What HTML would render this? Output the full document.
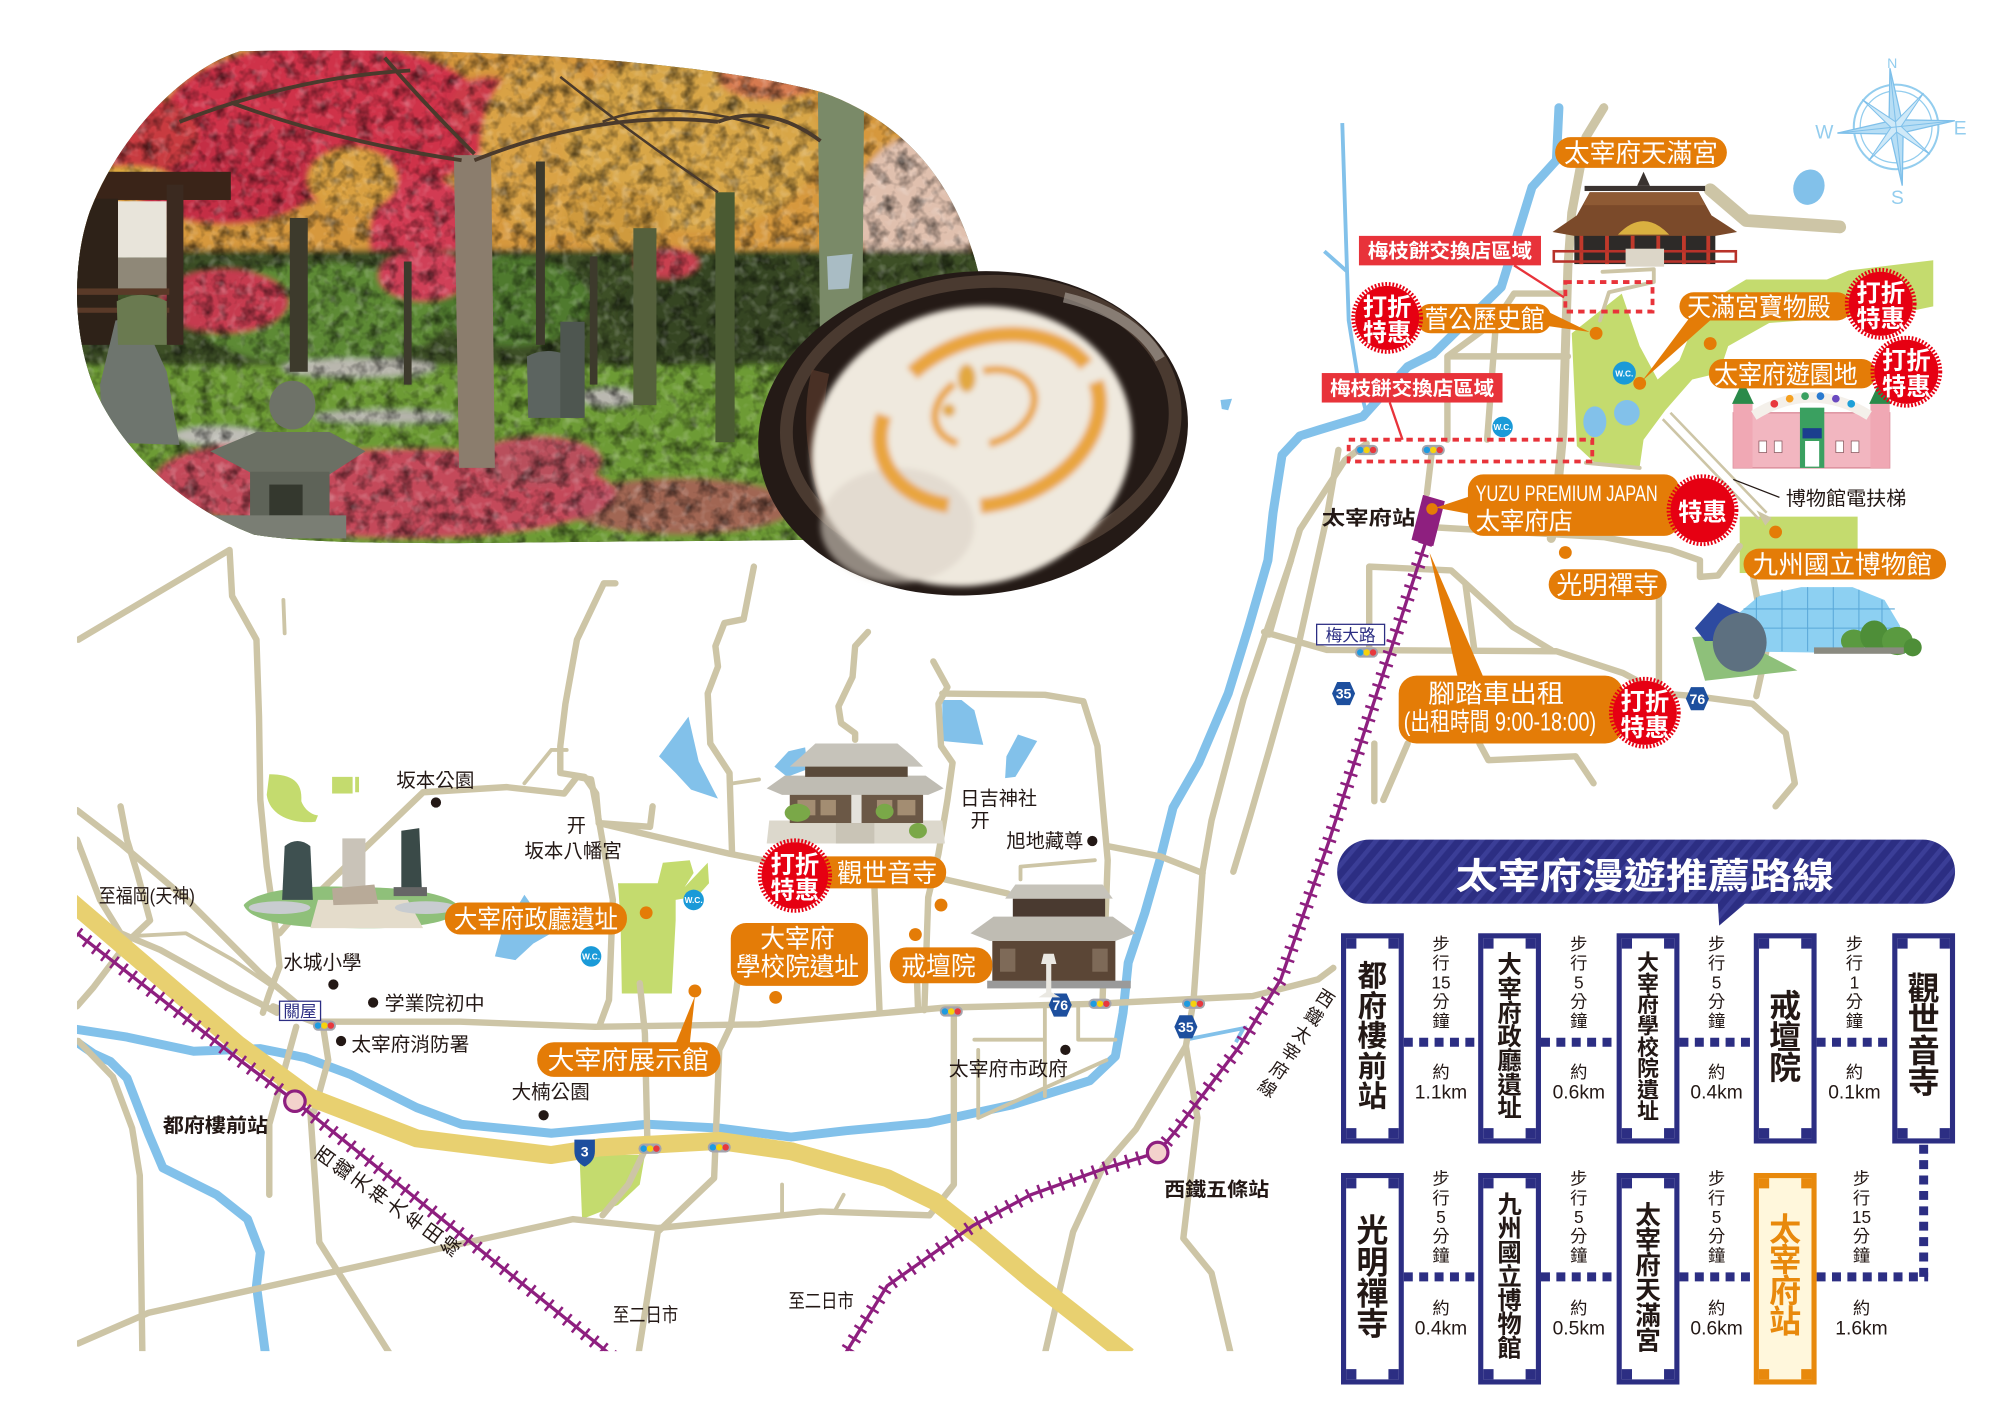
<!DOCTYPE html>
<html><head><meta charset="utf-8">
<style>
html,body{margin:0;padding:0;background:#fff;}
svg{display:block;}
text{font-family:"Liberation Sans","Noto Sans CJK TC",sans-serif;}
.rd{fill:none;stroke:#cdc5a6;stroke-width:5;stroke-linecap:round;stroke-linejoin:round}
.rt{fill:none;stroke:#cdc5a6;stroke-width:3;stroke-linecap:round;stroke-linejoin:round}
.rv{fill:none;stroke:#82c1ea;stroke-width:7;stroke-linecap:round;stroke-linejoin:round}
.lt{fill:#fff;font-size:20px;text-anchor:middle}
.bt{fill:#fff;font-size:19px;font-weight:700;text-anchor:middle}
.bk{fill:#231815;font-size:15px}
.bx{fill:#231815;font-weight:700;text-anchor:middle}
.wk{fill:#231815;font-size:13.5px;text-anchor:middle}
.km{fill:#231815;font-size:15px;text-anchor:middle}
.ob{fill:#e47c07}
.dt{fill:none;stroke:#2c2e83;stroke-width:7;stroke-dasharray:7 5}
</style></head>
<body>
<svg width="2000" height="1414" viewBox="0 0 1560 1103" xmlns="http://www.w3.org/2000/svg">
<defs>
<clipPath id="blob"><path d="M187,40 C140,55 92,108 70,165 C56,205 56,262 75,306 C95,350 140,395 198,417 C262,428 420,422 560,422 L720,420 L772,300 L763,212 C750,160 720,100 641,72 C560,50 400,36 187,40 Z"/></clipPath>
<clipPath id="mapclip"><rect x="60" y="0" width="1500" height="1054"/></clipPath>
<pattern id="stripe" width="9" height="9" patternUnits="userSpaceOnUse" patternTransform="rotate(40)"><rect width="9" height="9" fill="#2c2e83"/><rect width="3.5" height="9" fill="#3b3e97"/></pattern>
<filter id="soft" x="-5%" y="-5%" width="110%" height="110%"><feGaussianBlur stdDeviation="2.2"/></filter>
<filter id="grain" x="0" y="0" width="100%" height="100%"><feTurbulence type="fractalNoise" baseFrequency="0.09" numOctaves="3" seed="5"/><feColorMatrix type="matrix" values="0 0 0 0 0  0 0 0 0 0  0 0 0 0 0  0 0 0 2.2 -0.95"/></filter>
<filter id="grain2" x="0" y="0" width="100%" height="100%"><feTurbulence type="fractalNoise" baseFrequency="0.13" numOctaves="2" seed="11"/><feColorMatrix type="matrix" values="0 0 0 0 1  0 0 0 0 1  0 0 0 0 1  0 0 0 2.4 -1.2"/></filter>
</defs>

<!-- ================= MAP ================= -->
<g clip-path="url(#mapclip)">
<g fill="#c4db6e">
<path d="M1226,260 L1265,229 L1279,270 L1293,296 L1310,281 L1327,239 L1362,218 L1425,218 L1442,211 L1508,203 L1508,239 L1484,244 L1380,252 L1348,270 L1341,291 L1320,296 L1299,320 L1282,343 L1279,364 L1244,361 L1230,348 Z"/>
<rect x="1357" y="403" width="92" height="44"/>
<path d="M210,604 C228,604 236,610 235,625 C238,633 245,636 248,636 L246,641 C228,643 210,636 208,620 Z"/>
<rect x="259" y="606" width="16" height="13"/><rect x="277" y="606" width="3" height="12"/>
<path d="M482,689 L513,689 L517,673 L538,671 L541,681 L534,692 L552,673 L553,689 L544,699 L527,702 L527,718 L524,775 L485,775 L484,718 Z"/>
<path d="M452,901 L503,901 L499,924 L482,940 L454,951 Z"/>
</g>
<g fill="#82c1ea">
<path d="M537,559 L514,590 L527,603 L539,616 L560,623 L545,594 Z"/>
<path d="M735,546 L750,546 L760,554 L767,581 L735,578 Z"/>
<path d="M794,573 L809,578 L800,593 L792,606 L784,607 L785,590 Z"/>
<path d="M604,598 L615,586 L628,583 L630,600 L614,606 Z"/>
<path d="M409,698 L430,728 L416,736 L402,749 L386,746 L391,728 Z"/>
<ellipse cx="1411" cy="146" rx="12" ry="14" transform="rotate(20 1411 146)"/>
<ellipse cx="1244" cy="329" rx="9" ry="12"/>
<ellipse cx="1269" cy="322" rx="10" ry="10"/>
<path d="M952,312 L961,311 L958,320 L953,319 Z"/>
</g>
<path class="rv" d="M1216,84 L1214,125 L1195,146 L1171,224 L1118,276 L1098,286 L1063,325 L1030,335 L1014,340 L1000,355 L993,400 L989,437 L974,489 L958,541 L935,595 L915,630 L905,670 L893,712 L880,751 L876,790 L870,824 L850,843 L789,862 L724,876 L660,882 L617,887 L561,880 L505,877 L430,884 L360,877 L325,864 L273,838 L238,825 L203,818 L151,820 L99,809 L60,803"/>
<path class="rv" d="M60,813 L73,822 L86,828 L99,841 L116,885 L127,911 L169,932 L193,951 L203,977 L200,1003 L207,1056"/>
<path fill="none" stroke="#82c1ea" stroke-width="3" d="M1047,96 L1050,190 L1052,250 L1060,300 L1066,323 M1033,196 L1051,212 M925,811 L970,802 L964,813"/>

<g>
<path class="rd" d="M61,499 L179,429 L181,465 L200,499 L202,559 L203,624 L208,676 L215,725 L218,754 L210,775 L205,790"/>
<path class="rt" d="M221,468 L222,494"/>
<path class="rd" d="M218,728 L232,712 L330,618 L395,614 L440,619 L450,606 L461,608 L468,645 L478,702 L475,780 L468,799"/>
<path class="rd" d="M480,455 L471,455 L450,499 L441,549 L437,582 L437,603 L456,606 L465,619 L467,642 L507,645 L509,629"/>
<path class="rt" d="M409,611 L430,585 L442,585"/>
<path class="rd" d="M467,642 L509,652 L569,666 L600,672 L620,678"/>
<path class="rd" d="M588,442 L580,483 L565,486 L558,504 L560,520 L552,541 L554,580 L569,603 L571,666"/>
<path class="rt" d="M572,611 L592,608"/>
<path class="rd" d="M60,632 L94,658 L146,702 L203,759 L234,785 L245,796"/>
<path class="rd" d="M94,629 L99,655 L107,681 L117,718 L101,733 L73,770 L60,785"/>
<path class="rd" d="M60,655 L78,702 L94,728 L125,741 L177,770 L203,783 L216,790"/>
<path class="rt" d="M107,730 L145,728 L182,749 L213,770"/>
<path class="rd" d="M213,785 L244,797 L359,797 L464,801 L592,799 L737,786 L854,783 L977,777 L1028,764 L1040,755"/>
<path class="rd" d="M61,812 L88,840 L103,880 L109,917 L111,1056"/>
<path class="rd" d="M231,801 L210,877 L210,932"/>
<path class="rd" d="M242,867 L249,969 L304,1056"/>
<path class="rd" d="M252,801 L256,827 L245,867"/>
<path class="rd" d="M61,1048 L116,1024 L256,993 L447,951 L513,958 L640,945 L725,948"/>
<path class="rd" d="M744,788 L744,924 L729,943 L725,948"/>
<path class="rd" d="M499,767 L503,806 L505,893 L490,924 L470,948"/>
<path class="rd" d="M579,741 L570,800 L561,819 L557,919 L513,961 L498,1056"/>
<path class="rt" d="M610,924 L610,948 M658,932 L651,945"/>
<path class="rd" d="M925,816 L886,881 L860,911 L837,961 L815,1056"/>
<path class="rd" d="M925,816 L934,872 L923,966 L945,993 L960,1056"/>
<path class="rt" d="M763,819 L763,872 L863,827 M760,811 L815,811 M815,786 L815,855 M841,786 L841,811 L870,811"/>
<path class="rd" d="M682,691 L686,788"/>
<path class="rd" d="M715,757 L716,786"/>
<path class="rd" d="M677,493 L667,504 L665,528 L654,551 L656,564 L667,572 L667,577"/>
<path class="rd" d="M728,516 L739,536 L732,549 L734,582 L743,595 L739,624 L732,666 L724,700 L721,788"/>
<path class="rd" d="M735,541 L815,542 L845,547 L856,582 L864,671 L860,780"/>
<path class="rd" d="M864,660 L905,668 L938,681"/>
<path class="rd" d="M1007,437 L989,489 L970,545 L945,640 L938,680 L931,780 L925,816"/>
<path class="rt" d="M796,686 L796,676 L854,671"/>
<path class="rd" d="M737,686 L786,697"/>
<path class="rd" style="stroke-width:7" d="M1251,84 L1237,107 L1226,166 L1223,208 L1219,338 L1212,413 L1210,420"/>
<path class="rd" d="M1181,229 L1223,229 M1181,229 L1167,250 L1129,278 L1129,343 M1129,278 L1223,278 M1167,250 L1160,343"/>
<path class="rd" d="M1066,346 L1049,359 L1014,413 L1000,460 L990,495"/>
<path class="rd" d="M1044,351 L1035,403 L1012,507 L990,585 L975,637 L962,680"/>
<path class="rd" d="M1117,351 L1113,385"/>
<path class="rd" d="M1113,411 L1251,419 L1303,429 L1326,437 L1326,450 L1340,449 L1357,426"/>
<path class="rd" d="M1068,442 L1132,445 L1143,455 L1150,507 M1143,455 L1180,489 L1210,507 M1068,442 L1068,510"/>
<path class="rd" d="M986,493 L1035,507 L1214,508 L1266,525 L1296,541 L1322,543 L1367,549 L1393,572 L1400,611 L1385,629"/>
<path class="rd" d="M1370,543 L1378,507 L1367,447"/>
<path class="rd" d="M1294,450 L1294,541"/>
<path class="rd" d="M1098,580 L1079,624 M1154,580 L1161,593 L1229,590 L1243,611 M1072,580 L1072,625"/>
<path class="rd" style="stroke-width:10" d="M1334,148 L1362,172 L1435,177"/>
<path class="rt" d="M1250,212 L1290,210 L1290,220 L1255,228 L1248,250 M1237,361 L1279,365"/>
<path fill="none" stroke="#cdc5a6" stroke-width="2" d="M1303,322 L1378,400 M1297,327 L1372,405"/>
<path fill="#cdc5a6" d="M1370,398 L1382,404 L1377,410 Z"/>
</g>

<path fill="none" stroke="#e8d070" stroke-width="14" stroke-linejoin="round" d="M55,703 L186,815 L242,856 L325,888 L430,901 L468,895 L561,890 L617,898 L692,919 L729,937 L766,966 L804,998 L841,1027 L880,1058"/>

<g fill="none" stroke="#8e1f7f">
<path stroke-width="2.6" d="M60,728 L187,827 L230,859 L468,1050 L480,1060"/>
<path stroke-width="11" stroke-dasharray="2 7" d="M60,728 L187,827 L230,859 L468,1050 L480,1060"/>
<path stroke-width="2.6" d="M1112,423 L1037,655 L999,764 L967,816 L918,881 L903,899 L863,911 L804,932 L759,956 L729,977 L692,1003 L658,1058"/>
<path stroke-width="11" stroke-dasharray="2 7" d="M1112,423 L1037,655 L999,764 L967,816 L918,881 L903,899 L863,911 L804,932 L759,956 L729,977 L692,1003 L658,1058"/>
</g>
<circle cx="230" cy="859" r="8" fill="#f3d2cc" stroke="#8e1f7f" stroke-width="2.5"/>
<circle cx="903" cy="899" r="8" fill="#f3d2cc" stroke="#8e1f7f" stroke-width="2.5"/>
</g>

<g>
<g transform="translate(1066,351)"><rect x="-9" y="-4" width="18" height="8" rx="4" fill="#a4a4ac"/><circle cx="-5" r="2.5" fill="#1e9be0"/><circle r="2.5" fill="#f5d20f"/><circle cx="5" r="2.5" fill="#e8383d"/></g>
<g transform="translate(1118,351)"><rect x="-9" y="-4" width="18" height="8" rx="4" fill="#a4a4ac"/><circle cx="-5" r="2.5" fill="#1e9be0"/><circle r="2.5" fill="#f5d20f"/><circle cx="5" r="2.5" fill="#e8383d"/></g>
<g transform="translate(1066,509)"><rect x="-9" y="-4" width="18" height="8" rx="4" fill="#a4a4ac"/><circle cx="-5" r="2.5" fill="#1e9be0"/><circle r="2.5" fill="#f5d20f"/><circle cx="5" r="2.5" fill="#e8383d"/></g>
<g transform="translate(253,800)"><rect x="-9" y="-4" width="18" height="8" rx="4" fill="#a4a4ac"/><circle cx="-5" r="2.5" fill="#1e9be0"/><circle r="2.5" fill="#f5d20f"/><circle cx="5" r="2.5" fill="#e8383d"/></g>
<g transform="translate(507,896)"><rect x="-9" y="-4" width="18" height="8" rx="4" fill="#a4a4ac"/><circle cx="-5" r="2.5" fill="#1e9be0"/><circle r="2.5" fill="#f5d20f"/><circle cx="5" r="2.5" fill="#e8383d"/></g>
<g transform="translate(561,895)"><rect x="-9" y="-4" width="18" height="8" rx="4" fill="#a4a4ac"/><circle cx="-5" r="2.5" fill="#1e9be0"/><circle r="2.5" fill="#f5d20f"/><circle cx="5" r="2.5" fill="#e8383d"/></g>
<g transform="translate(742,789)"><rect x="-9" y="-4" width="18" height="8" rx="4" fill="#a4a4ac"/><circle cx="-5" r="2.5" fill="#1e9be0"/><circle r="2.5" fill="#f5d20f"/><circle cx="5" r="2.5" fill="#e8383d"/></g>
<g transform="translate(858,783)"><rect x="-9" y="-4" width="18" height="8" rx="4" fill="#a4a4ac"/><circle cx="-5" r="2.5" fill="#1e9be0"/><circle r="2.5" fill="#f5d20f"/><circle cx="5" r="2.5" fill="#e8383d"/></g>
<g transform="translate(931,783)"><rect x="-9" y="-4" width="18" height="8" rx="4" fill="#a4a4ac"/><circle cx="-5" r="2.5" fill="#1e9be0"/><circle r="2.5" fill="#f5d20f"/><circle cx="5" r="2.5" fill="#e8383d"/></g>
</g>

<g font-size="11" font-weight="700" fill="#fff" text-anchor="middle">
<path d="M1043,532 L1053,532 L1057,541 L1053,550 L1043,550 L1039,541 Z" fill="#1d4f9e"/><text x="1048" y="545">35</text>
<path d="M920,792 L930,792 L934,801 L930,810 L920,810 L916,801 Z" fill="#1d4f9e"/><text x="925" y="805">35</text>
<path d="M1319,536 L1329,536 L1333,545 L1329,554 L1319,554 L1315,545 Z" fill="#1d4f9e"/><text x="1324" y="549">76</text>
<path d="M822,775 L832,775 L836,784 L832,793 L822,793 L818,784 Z" fill="#1d4f9e"/><text x="827" y="788">76</text>
<path d="M448,889 L464,889 L464,898 Q464,906 456,910 Q448,906 448,898 Z" fill="#1d4f9e"/><text x="456" y="902">3</text>
</g>

<g font-size="6.5" font-weight="700" fill="#fff" text-anchor="middle">
<circle cx="1267" cy="291" r="9" fill="#1a9ad8"/><text x="1267" y="293.5">W.C.</text>
<circle cx="1172" cy="333" r="8" fill="#1a9ad8"/><text x="1172" y="335.5">W.C.</text>
<circle cx="541" cy="702" r="8" fill="#1a9ad8"/><text x="541" y="704.5">W.C.</text>
<circle cx="461" cy="746" r="8" fill="#1a9ad8"/><text x="461" y="748.5">W.C.</text>
</g>

<!-- Tenmangu shrine -->
<g>
<rect x="1228" y="180" width="110" height="26" fill="#2d2a28"/>
<g fill="#c0392b"><rect x="1232" y="182" width="3" height="24"/><rect x="1252" y="182" width="3" height="24"/><rect x="1272" y="182" width="3" height="24"/><rect x="1292" y="182" width="3" height="24"/><rect x="1312" y="182" width="3" height="24"/><rect x="1331" y="182" width="3" height="24"/></g>
<rect x="1212" y="196" width="142" height="8" fill="none" stroke="#b8322a" stroke-width="2"/>
<rect x="1268" y="194" width="30" height="14" fill="#dcd6c8"/>
<path d="M1211,181 L1230,168 L1240,150 L1325,150 L1335,168 L1355,181 L1338,184 L1228,184 Z" fill="#7b4a2a"/>
<path d="M1240,150 L1325,150 L1330,160 L1235,160 Z" fill="#8e5a34"/>
<path d="M1262,183 Q1282,162 1302,183 Z" fill="#d9b040"/>
<rect x="1236" y="145" width="94" height="4" fill="#3a3330"/>
<path d="M1277,145 L1282,134 L1287,145 Z" fill="#3a3330"/>
</g>
<!-- Kanzeonji -->
<g>
<path d="M600,640 L735,640 L737,658 L598,658 Z" fill="#dcd8cc"/>
<rect x="652" y="640" width="30" height="18" fill="#c9c4b6"/>
<rect x="616" y="617" width="104" height="25" fill="#6b5846"/>
<g fill="#a38d72"><rect x="622" y="624" width="14" height="12"/><rect x="640" y="624" width="12" height="12"/><rect x="684" y="624" width="12" height="12"/><rect x="700" y="624" width="14" height="12"/></g>
<rect x="664" y="618" width="8" height="24" fill="#e4e2dc"/>
<path d="M598,615 L612,605 L722,605 L736,615 L724,620 L610,620 Z" fill="#bfbcb3"/>
<rect x="628" y="597" width="80" height="9" fill="#5a4a3a"/>
<path d="M616,598 L625,590 L636,580 L700,580 L712,590 L720,598 Z" fill="#c6c3ba"/>
<ellipse cx="622" cy="634" rx="10" ry="7" fill="#7aa848"/><ellipse cx="690" cy="633" rx="7" ry="6" fill="#7aa848"/><ellipse cx="716" cy="648" rx="7" ry="6" fill="#7aa848"/>
</g>
<!-- Kaidanin -->
<g>
<rect x="774" y="733" width="96" height="33" fill="#5b4636"/>
<g fill="#7e6a58"><rect x="780" y="740" width="12" height="18"/><rect x="852" y="740" width="12" height="18"/></g>
<rect x="770" y="765" width="112" height="6" fill="#9a9a9a"/>
<path d="M757,728 L775,715 L868,715 L886,728 L870,734 L772,734 Z" fill="#bfbcb3"/>
<rect x="790" y="701" width="72" height="14" fill="#4a3a30"/>
<path d="M784,701 L792,690 L860,690 L868,701 Z" fill="#c6c3ba"/>
<path d="M814,744 L822,744 L824,752 L820,752 L820,774 L827,778 L810,778 L816,774 L816,752 L812,752 Z" fill="#eae8e2"/>
</g>
<!-- Amusement park -->
<g>
<rect x="1352" y="322" width="122" height="43" fill="#f2b6c0" stroke="#d88896" stroke-width="1"/>
<rect x="1352" y="314" width="15" height="51" fill="#f0a8b4"/>
<rect x="1459" y="314" width="15" height="51" fill="#f0a8b4"/>
<path d="M1351,315 L1359.5,297 L1368,315 Z" fill="#2a8a4a"/>
<path d="M1458,315 L1466.5,297 L1475,315 Z" fill="#2a8a4a"/>
<path d="M1368,324 Q1413,296 1458,324" fill="none" stroke="#f4f0ea" stroke-width="8"/>
<g><circle cx="1384" cy="315" r="3" fill="#e8383d"/><circle cx="1396" cy="311" r="3" fill="#f5a020"/><circle cx="1408" cy="309" r="3" fill="#3aa060"/><circle cx="1420" cy="309" r="3" fill="#2a7ad0"/><circle cx="1432" cy="311" r="3" fill="#6a4ac0"/><circle cx="1444" cy="315" r="3" fill="#1ea0d8"/></g>
<rect x="1404" y="318" width="19" height="47" fill="#3aa060"/>
<rect x="1408" y="344" width="11" height="20" fill="#fff"/>
<rect x="1406" y="334" width="15" height="8" fill="#1b3e8e"/>
<g fill="#fff" stroke="#8a5a60" stroke-width="0.6"><rect x="1372" y="344" width="6" height="9"/><rect x="1384" y="344" width="6" height="9"/><rect x="1432" y="344" width="6" height="9"/><rect x="1444" y="344" width="6" height="9"/></g>
</g>
<!-- Museum -->
<g>
<path d="M1320,497 L1348,495 L1402,523 L1330,531 Z" fill="#8ec07a"/>
<path d="M1345,508 L1352,482 L1372,465 L1405,458 L1445,458 L1470,468 L1482,488 L1486,510 Z" fill="#8dd0f2"/>
<g stroke="#5aa8d8" stroke-width="0.8" fill="none"><path d="M1370,466 L1370,508 M1390,460 L1390,508 M1410,458 L1410,508 M1430,458 L1430,508 M1450,460 L1450,508 M1468,468 L1468,508 M1350,490 L1484,490 M1360,475 L1478,475"/></g>
<path d="M1322,490 L1340,470 L1362,480 L1356,500 L1330,500 Z" fill="#2d4aa0"/>
<ellipse cx="1446" cy="500" rx="10" ry="9" fill="#5a9a40"/><ellipse cx="1462" cy="496" rx="11" ry="12" fill="#4e8e38"/><ellipse cx="1480" cy="500" rx="12" ry="11" fill="#5a9a40"/><ellipse cx="1492" cy="505" rx="7" ry="7" fill="#4e8e38"/>
<rect x="1415" y="505" width="70" height="5" fill="#8a8a80"/>
<ellipse cx="1357" cy="501" rx="21" ry="23" fill="#5d7080"/>
</g>
<!-- Monument -->
<g>
<path d="M190,706 C200,694 240,690 275,692 C315,692 350,696 359,708 C357,720 320,725 275,724 C230,724 196,720 190,706 Z" fill="#8fc07a"/>
<path d="M248,702 L318,702 L330,724 L242,724 Z" fill="#e4dccb"/>
<ellipse cx="218" cy="708" rx="24" ry="5" fill="#c8ccd0"/>
<ellipse cx="332" cy="708" rx="24" ry="5" fill="#c8ccd0"/>
<path d="M222,660 Q232,652 242,660 L244,702 L220,702 Z" fill="#3e5050"/>
<rect x="267" y="654" width="18" height="40" fill="#c9c3b8"/>
<path d="M259,693 L292,690 L295,705 L260,706 Z" fill="#b8aa98"/>
<path d="M313,648 L327,646 L329,694 L313,694 Z" fill="#3a4a48"/>
<rect x="307" y="692" width="26" height="7" fill="#666"/>
</g>

<g class="ob">
<circle cx="1245" cy="260" r="5"/><circle cx="1279" cy="299" r="5"/><circle cx="1334" cy="268" r="5"/>
<circle cx="1221" cy="431" r="5"/><circle cx="1385" cy="415" r="5"/>
<circle cx="504" cy="712" r="5"/><circle cx="734" cy="706" r="5"/><circle cx="714" cy="729" r="5"/><circle cx="542" cy="773" r="5"/><circle cx="605" cy="778" r="5"/>
</g>
<g fill="#231815">
<circle cx="340" cy="626" r="4"/><circle cx="260" cy="768" r="4"/><circle cx="291" cy="782" r="4"/><circle cx="266" cy="812" r="4"/><circle cx="424" cy="870" r="4"/><circle cx="852" cy="656" r="4"/><circle cx="831" cy="819" r="4"/>
</g>

<polygon points="1110,386 1127,391 1118,426 1101,421" fill="#8e1f7f"/>
<circle cx="1117" cy="397" r="4.5" fill="#e47c07"/>

<g fill="none" stroke="#e8333a" stroke-width="3" stroke-dasharray="5 4">
<rect x="1221" y="220" width="68" height="23"/>
<rect x="1052" y="343" width="190" height="17"/>
</g>
<path d="M1181,207 L1220,232 M1084,314 L1094,343" stroke="#e8333a" stroke-width="1.8" fill="none"/>
<rect x="1060" y="184" width="142" height="23" fill="#e8333a"/>
<text x="1131" y="201" fill="#fff" font-size="15" font-weight="700" text-anchor="middle" textLength="128" lengthAdjust="spacingAndGlyphs">梅枝餅交換店區域</text>
<rect x="1031" y="291" width="141" height="23" fill="#e8333a"/>
<text x="1101.5" y="308" fill="#fff" font-size="15" font-weight="700" text-anchor="middle" textLength="128" lengthAdjust="spacingAndGlyphs">梅枝餅交換店區域</text>

<g>
<polygon class="ob" points="1205,242 1240,259 1205,254"/>
<polygon class="ob" points="1317,249 1281,297 1335,249"/>
<polygon class="ob" points="1120,396 1147,387 1147,401"/>
<polygon class="ob" points="1115,431 1137,528 1157,528"/>
<polygon class="ob" points="542,777 527,814 538,814"/>

<rect class="ob" x="1213" y="107" width="134" height="24" rx="12"/>
<text class="lt" x="1280" y="126.5" textLength="120" lengthAdjust="spacingAndGlyphs">太宰府天滿宮</text>
<rect class="ob" x="1105" y="237" width="105" height="23" rx="11"/>
<text class="lt" x="1158" y="256" textLength="94" lengthAdjust="spacingAndGlyphs">菅公歷史館</text>
<rect class="ob" x="1310" y="228" width="134" height="22" rx="11"/>
<text class="lt" x="1372" y="246.5" textLength="112" lengthAdjust="spacingAndGlyphs">天滿宮寶物殿</text>
<rect class="ob" x="1333" y="280" width="130" height="23" rx="11"/>
<text class="lt" x="1393" y="299" textLength="112" lengthAdjust="spacingAndGlyphs">太宰府遊園地</text>
<rect class="ob" x="1145" y="370" width="165" height="48" rx="12"/>
<text x="1151" y="391" fill="#fff" font-size="17" textLength="142" lengthAdjust="spacingAndGlyphs">YUZU PREMIUM JAPAN</text>
<text x="1151" y="413" fill="#fff" font-size="19" textLength="76" lengthAdjust="spacingAndGlyphs">太宰府店</text>
<rect class="ob" x="1208" y="444" width="92" height="24" rx="12"/>
<text class="lt" x="1254" y="463.5" textLength="80" lengthAdjust="spacingAndGlyphs">光明禪寺</text>
<rect class="ob" x="1360" y="428" width="158" height="24" rx="12"/>
<text class="lt" x="1437" y="447.5" textLength="140" lengthAdjust="spacingAndGlyphs">九州國立博物館</text>
<rect class="ob" x="1091" y="527" width="175" height="53" rx="14"/>
<text class="lt" x="1167" y="548" font-size="22" textLength="106" lengthAdjust="spacingAndGlyphs">腳踏車出租</text>
<text class="lt" x="1170" y="570" font-size="16" textLength="150" lengthAdjust="spacingAndGlyphs">(出租時間 9:00-18:00)</text>
<rect class="ob" x="347" y="704" width="142" height="25" rx="12"/>
<text class="lt" x="418" y="724" textLength="128" lengthAdjust="spacingAndGlyphs">大宰府政廳遺址</text>
<rect class="ob" x="630" y="668" width="108" height="25" rx="12"/>
<text class="lt" x="692" y="688" textLength="78" lengthAdjust="spacingAndGlyphs">觀世音寺</text>
<rect class="ob" x="570" y="720" width="107" height="49" rx="12"/>
<text class="lt" x="622" y="739" textLength="58" lengthAdjust="spacingAndGlyphs">大宰府</text>
<text class="lt" x="622" y="761" textLength="96" lengthAdjust="spacingAndGlyphs">學校院遺址</text>
<rect class="ob" x="694" y="739" width="80" height="28" rx="13"/>
<text class="lt" x="732" y="760.5" font-size="22" textLength="58" lengthAdjust="spacingAndGlyphs">戒壇院</text>
<rect class="ob" x="419" y="813" width="143" height="27" rx="13"/>
<text class="lt" x="490" y="834" textLength="126" lengthAdjust="spacingAndGlyphs">大宰府展示館</text>
</g>

<g>
<g transform="translate(1082,248)"><circle r="25" fill="#e60012"/><circle r="26.5" fill="none" stroke="#e60012" stroke-width="3" stroke-dasharray="1.4 1.4"/><text class="bt" y="-2">打折</text><text class="bt" y="18">特惠</text></g>
<g transform="translate(1467,237)"><circle r="25" fill="#e60012"/><circle r="26.5" fill="none" stroke="#e60012" stroke-width="3" stroke-dasharray="1.4 1.4"/><text class="bt" y="-2">打折</text><text class="bt" y="18">特惠</text></g>
<g transform="translate(1487,290)"><circle r="25" fill="#e60012"/><circle r="26.5" fill="none" stroke="#e60012" stroke-width="3" stroke-dasharray="1.4 1.4"/><text class="bt" y="-2">打折</text><text class="bt" y="18">特惠</text></g>
<g transform="translate(1328,398)"><circle r="25" fill="#e60012"/><circle r="26.5" fill="none" stroke="#e60012" stroke-width="3" stroke-dasharray="1.4 1.4"/><text class="bt" y="8" font-size="21">特惠</text></g>
<g transform="translate(1283,556)"><circle r="25" fill="#e60012"/><circle r="26.5" fill="none" stroke="#e60012" stroke-width="3" stroke-dasharray="1.4 1.4"/><text class="bt" y="-2">打折</text><text class="bt" y="18">特惠</text></g>
<g transform="translate(620,683)"><circle r="26" fill="#e60012"/><circle r="27.5" fill="none" stroke="#e60012" stroke-width="3" stroke-dasharray="1.4 1.4"/><text class="bt" y="-2">打折</text><text class="bt" y="18">特惠</text></g>
</g>

<g>
<text class="bk" x="309" y="614" textLength="61" lengthAdjust="spacingAndGlyphs">坂本公園</text>
<text class="bk" x="442" y="649" font-size="12">开</text>
<text class="bk" x="409" y="669" textLength="76" lengthAdjust="spacingAndGlyphs">坂本八幡宮</text>
<text class="bk" x="77" y="704" font-size="13" textLength="75" lengthAdjust="spacingAndGlyphs">至福岡(天神)</text>
<text class="bk" x="749" y="628" textLength="60" lengthAdjust="spacingAndGlyphs">日吉神社</text>
<text class="bk" x="757" y="645" font-size="12">开</text>
<text class="bk" x="785" y="661" textLength="60" lengthAdjust="spacingAndGlyphs">旭地藏尊</text>
<text class="bk" x="221" y="756" textLength="61" lengthAdjust="spacingAndGlyphs">水城小學</text>
<text class="bk" x="300" y="788" textLength="78" lengthAdjust="spacingAndGlyphs">学業院初中</text>
<text class="bk" x="274" y="820" textLength="92" lengthAdjust="spacingAndGlyphs">太宰府消防署</text>
<text class="bk" x="399" y="857" textLength="61" lengthAdjust="spacingAndGlyphs">大楠公園</text>
<text class="bk" x="127" y="883" font-size="16" font-weight="700" textLength="82" lengthAdjust="spacingAndGlyphs">都府樓前站</text>
<text class="bk" x="740" y="839" textLength="93" lengthAdjust="spacingAndGlyphs">太宰府市政府</text>
<text class="bk" x="908" y="933" font-size="16" font-weight="700" textLength="82" lengthAdjust="spacingAndGlyphs">西鐵五條站</text>
<text class="bk" x="478" y="1031" font-size="13" textLength="51" lengthAdjust="spacingAndGlyphs">至二日市</text>
<text class="bk" x="615" y="1020" font-size="13" textLength="51" lengthAdjust="spacingAndGlyphs">至二日市</text>
<text class="bk" x="1031" y="409" font-size="17" font-weight="700" textLength="73" lengthAdjust="spacingAndGlyphs">太宰府站</text>
<path d="M1352,374 L1388,388" stroke="#231815" stroke-width="1" fill="none"/>
<text class="bk" x="1393" y="394" textLength="94" lengthAdjust="spacingAndGlyphs">博物館電扶梯</text>
<rect x="1027" y="487" width="53" height="16" fill="#fff" stroke="#2c2e83" stroke-width="1"/>
<text x="1053.5" y="500" fill="#2c2e83" font-size="13" text-anchor="middle">梅大路</text>
<rect x="218" y="781" width="32" height="15" fill="#fff" stroke="#2c2e83" stroke-width="1"/>
<text x="234" y="793.5" fill="#2c2e83" font-size="13" text-anchor="middle">關屋</text>
</g>
<g fill="#231815" font-size="14" text-anchor="middle">
<text transform="translate(1031,783) rotate(33)">西</text>
<text transform="translate(1022,797) rotate(33)">鐵</text>
<text transform="translate(1013,811) rotate(33)">太</text>
<text transform="translate(1004,825) rotate(33)">宰</text>
<text transform="translate(995,839) rotate(33)">府</text>
<text transform="translate(986,853) rotate(33)">線</text>
</g>
<g fill="#231815" font-size="15" text-anchor="middle">
<text transform="translate(258,905) rotate(-54)">西</text>
<text transform="translate(272,915) rotate(-54)">鐵</text>
<text transform="translate(286,925) rotate(-54)">天</text>
<text transform="translate(300,935) rotate(-54)">神</text>
<text transform="translate(314,945) rotate(-54)">大</text>
<text transform="translate(328,955) rotate(-54)">牟</text>
<text transform="translate(342,965) rotate(-54)">田</text>
<text transform="translate(356,975) rotate(-54)">線</text>
</g>

<g transform="translate(1479,99)">
<g fill="none" stroke="#93cdee"><circle r="33" stroke-width="1.6"/><circle r="28" stroke-width="1"/></g>
<g transform="rotate(-6)">
<polygon points="0,-46 5,-5 46,0 5,5 0,46 -5,5 -46,0 -5,-5" fill="#b7def5" stroke="#7fc0ea" stroke-width="1"/>
<polygon points="24,-24 4,0 24,24 0,4 -24,24 -4,0 -24,-24 0,-4" fill="#cfe9f8" stroke="#7fc0ea" stroke-width="0.8"/>
<path d="M0,-46 L0,46 M-46,0 L46,0" stroke="#7fc0ea" stroke-width="0.8"/>
</g>
<g fill="#93cdee" font-family="Liberation Serif,serif" text-anchor="middle">
<text x="-3" y="-46" font-size="11">N</text>
<text x="-56" y="9" font-size="15">W</text>
<text x="50" y="6" font-size="15">E</text>
<text x="1" y="60" font-size="15">S</text>
</g>
</g>

<!-- ============ Photo blob ============ -->
<g clip-path="url(#blob)">
<rect x="50" y="30" width="730" height="400" fill="#3f4f28"/>
<g filter="url(#soft)">
<!-- canopy -->
<rect x="50" y="30" width="730" height="175" fill="#d6983e"/>
<ellipse cx="255" cy="95" rx="130" ry="62" fill="#cf3348"/>
<ellipse cx="175" cy="140" rx="75" ry="35" fill="#c42e44"/>
<ellipse cx="110" cy="105" rx="45" ry="30" fill="#c83a40"/>
<ellipse cx="330" cy="185" rx="42" ry="48" fill="#d23a52"/>
<ellipse cx="380" cy="85" rx="30" ry="25" fill="#cc3a4a"/>
<ellipse cx="100" cy="140" rx="35" ry="10" fill="#e0b040"/>
<ellipse cx="275" cy="140" rx="35" ry="25" fill="#d9a040"/>
<ellipse cx="425" cy="115" rx="50" ry="70" fill="#d9a244"/>
<ellipse cx="540" cy="110" rx="100" ry="70" fill="#d8a646"/>
<ellipse cx="480" cy="170" rx="40" ry="25" fill="#cf9a3c"/>
<ellipse cx="715" cy="165" rx="48" ry="58" fill="#e0c0ae"/>
<ellipse cx="600" cy="60" rx="40" ry="18" fill="#d67a50"/>
<!-- middle band -->
<rect x="50" y="195" width="730" height="95" fill="#3e5026"/>
<ellipse cx="250" cy="245" rx="100" ry="40" fill="#5d8a34"/>
<ellipse cx="400" cy="235" rx="60" ry="35" fill="#4f7a2e"/>
<ellipse cx="560" cy="245" rx="80" ry="45" fill="#344424"/>
<ellipse cx="175" cy="235" rx="50" ry="25" fill="#c63a50"/>
<ellipse cx="330" cy="215" rx="35" ry="20" fill="#d04058"/>
<ellipse cx="520" cy="205" rx="25" ry="12" fill="#c84050"/>
<!-- ground -->
<rect x="50" y="285" width="730" height="150" fill="#6d9b35"/>
<ellipse cx="320" cy="385" rx="160" ry="35" fill="#c44a5a"/>
<ellipse cx="200" cy="375" rx="80" ry="30" fill="#c44a5a"/>
<ellipse cx="420" cy="360" rx="50" ry="20" fill="#b9505c"/>
<ellipse cx="530" cy="395" rx="90" ry="22" fill="#b85060" opacity="0.7"/>
<ellipse cx="280" cy="287" rx="60" ry="7" fill="#b9b7ae"/>
<ellipse cx="300" cy="325" rx="55" ry="5" fill="#b5b4ac"/>
<ellipse cx="170" cy="340" rx="35" ry="7" fill="#bebdb6"/>
<ellipse cx="475" cy="310" rx="22" ry="7" fill="#bab8b0"/>
</g>
<!-- texture -->
<rect x="50" y="30" width="730" height="400" filter="url(#grain)" opacity="0.6"/>
<rect x="50" y="30" width="730" height="400" filter="url(#grain2)" opacity="0.25"/>
<!-- building -->
<rect x="60" y="134" width="120" height="22" fill="#3a2418"/>
<rect x="55" y="155" width="37" height="114" fill="#2e2218"/>
<rect x="92" y="157" width="38" height="44" fill="#e8e4da"/>
<rect x="92" y="201" width="38" height="24" fill="#8f8878"/>
<rect x="130" y="144" width="13" height="125" fill="#3b2a20"/>
<rect x="58" y="225" width="74" height="5" fill="#5a3a28"/>
<rect x="58" y="240" width="74" height="4" fill="#5a3a28"/>
<!-- trunks -->
<g fill="#3d3a2c">
<rect x="558" y="150" width="15" height="195" fill="#4a5a32"/>
<rect x="494" y="178" width="18" height="138" fill="#55603c"/>
<rect x="226" y="170" width="14" height="120"/>
<rect x="315" y="204" width="6" height="96"/>
<rect x="418" y="126" width="7" height="143"/>
<rect x="460" y="200" width="6" height="100"/>
</g>
<path d="M354,121 L383,121 L386,365 L358,365 Z" fill="#8b7d6d"/>
<path d="M638,72 L674,72 L672,330 L640,330 Z" fill="#7a8a68"/>
<path d="M645,200 L665,198 L662,225 L646,226 Z" fill="#a9bcc4"/>
<g stroke="#4a3a2c" stroke-width="3" fill="none">
<path d="M140,95 Q230,60 320,55 M180,80 Q260,110 360,125 M370,125 Q470,85 560,95 M370,120 Q330,80 300,45 M560,95 Q600,80 640,110"/>
<path d="M437,60 Q500,110 560,150 M470,95 Q520,75 600,100" stroke-width="2"/>
</g>
<!-- stones -->
<path d="M78,300 L90,250 L110,246 L130,290 L140,347 L80,345 Z" fill="#6e756e"/>
<path d="M91,235 Q110,225 130,235 L130,269 L92,269 Z" fill="#6a7a50"/>
<path d="M411,278 Q430,268 452,282 L454,326 L412,326 Z" fill="#5c6460"/>
<path d="M437,251 L456,251 L456,326 L437,326 Z" fill="#4e5650"/>
<!-- lantern -->
<ellipse cx="228" cy="316" rx="18" ry="19" fill="#6e7268"/>
<path d="M164,352 L200,337 L257,337 L285,352 L257,370 L198,370 Z" fill="#6b7064"/>
<rect x="195" y="368" width="62" height="40" fill="#5e6358"/>
<rect x="210" y="378" width="26" height="24" fill="#34382e"/>
<rect x="166" y="402" width="104" height="18" fill="#7a7e74"/>
</g>

<!-- ============ Mochi photo ============ -->
<g>
<ellipse cx="759" cy="338" rx="168" ry="126" fill="#241a16" transform="rotate(-6 759 338)"/>
<ellipse cx="765" cy="330" rx="152" ry="110" fill="none" stroke="#4a3a30" stroke-width="10" transform="rotate(-6 765 330)"/>
<path d="M640,290 Q628,340 650,400" fill="none" stroke="#5a3a2c" stroke-width="14" opacity="0.7"/>
<path d="M830,232 Q885,245 905,280" fill="none" stroke="#b0a8a0" stroke-width="8" opacity="0.6"/>
<g filter="url(#soft)">
<ellipse cx="758" cy="348" rx="126" ry="108" fill="#efe9de" transform="rotate(-15 758 348)"/>
<ellipse cx="700" cy="410" rx="60" ry="45" fill="#dad2c6" opacity="0.6"/>
<ellipse cx="772" cy="328" rx="88" ry="64" fill="none" stroke="#e9a540" stroke-width="12" stroke-dasharray="150 25 100 40" transform="rotate(-20 772 328)"/>
<ellipse cx="768" cy="318" rx="40" ry="28" fill="none" stroke="#e9a540" stroke-width="6" stroke-dasharray="60 25" transform="rotate(-20 768 318)"/>
<ellipse cx="754" cy="295" rx="7" ry="11" fill="#e2a840"/>
<ellipse cx="740" cy="320" rx="5" ry="5" fill="#e2a840"/>
</g>
</g>

<!-- ============ Route panel ============ -->
<g>
<path d="M1068,655 L1500,655 A25,25 0 0 1 1500,705 L1361,705 L1341,722 L1340,705 L1068,705 A25,25 0 0 1 1068,655 Z" fill="url(#stripe)"/>
<text x="1283" y="693" fill="#fff" font-size="28" font-weight="700" text-anchor="middle" textLength="295" lengthAdjust="spacingAndGlyphs">太宰府漫遊推薦路線</text>

<path class="dt" d="M1095,813 L1153,813 M1202,813 L1261,813 M1310,813 L1368,813 M1417,813 L1476,813"/>
<path class="dt" d="M1095,996 L1153,996 M1202,996 L1261,996 M1310,996 L1368,996 M1417,996 L1504,996"/>
<path class="dt" d="M1500.5,893 L1500.5,999"/>

<g>
<rect x="1046" y="728" width="49" height="164" fill="#2c2e83"/><rect x="1050" y="732" width="41" height="156" fill="#fff"/>
<rect x="1153" y="728" width="49" height="164" fill="#2c2e83"/><rect x="1157" y="732" width="41" height="156" fill="#fff"/>
<rect x="1261" y="728" width="49" height="164" fill="#2c2e83"/><rect x="1265" y="732" width="41" height="156" fill="#fff"/>
<rect x="1368" y="728" width="49" height="164" fill="#2c2e83"/><rect x="1372" y="732" width="41" height="156" fill="#fff"/>
<rect x="1476" y="728" width="49" height="164" fill="#2c2e83"/><rect x="1480" y="732" width="41" height="156" fill="#fff"/>
<rect x="1046" y="915" width="49" height="165" fill="#2c2e83"/><rect x="1050" y="919" width="41" height="157" fill="#fff"/>
<rect x="1153" y="915" width="49" height="165" fill="#2c2e83"/><rect x="1157" y="919" width="41" height="157" fill="#fff"/>
<rect x="1261" y="915" width="49" height="165" fill="#2c2e83"/><rect x="1265" y="919" width="41" height="157" fill="#fff"/>
<rect x="1368" y="915" width="49" height="165" fill="#e8890c"/><rect x="1372" y="919" width="41" height="157" fill="#fff7dc"/>
</g>
<g fill="#2c2e83">
<path d="M1050,732h8v8h-8z M1083,732h8v8h-8z M1050,880h8v8h-8z M1083,880h8v8h-8z"/>
<path d="M1157,732h8v8h-8z M1190,732h8v8h-8z M1157,880h8v8h-8z M1190,880h8v8h-8z"/>
<path d="M1265,732h8v8h-8z M1298,732h8v8h-8z M1265,880h8v8h-8z M1298,880h8v8h-8z"/>
<path d="M1372,732h8v8h-8z M1405,732h8v8h-8z M1372,880h8v8h-8z M1405,880h8v8h-8z"/>
<path d="M1480,732h8v8h-8z M1513,732h8v8h-8z M1480,880h8v8h-8z M1513,880h8v8h-8z"/>
<path d="M1050,919h8v8h-8z M1083,919h8v8h-8z M1050,1068h8v8h-8z M1083,1068h8v8h-8z"/>
<path d="M1157,919h8v8h-8z M1190,919h8v8h-8z M1157,1068h8v8h-8z M1190,1068h8v8h-8z"/>
<path d="M1265,919h8v8h-8z M1298,919h8v8h-8z M1265,1068h8v8h-8z M1298,1068h8v8h-8z"/>
</g>
<path fill="#e8890c" d="M1372,919h8v8h-8z M1405,919h8v8h-8z M1372,1068h8v8h-8z M1405,1068h8v8h-8z"/>

<text class="bx" font-size="23"><tspan x="1070.5" y="769">都</tspan><tspan x="1070.5" y="793">府</tspan><tspan x="1070.5" y="816">樓</tspan><tspan x="1070.5" y="840">前</tspan><tspan x="1070.5" y="863">站</tspan></text>
<text class="bx" font-size="19"><tspan x="1177.5" y="759">大</tspan><tspan x="1177.5" y="778">宰</tspan><tspan x="1177.5" y="797">府</tspan><tspan x="1177.5" y="815">政</tspan><tspan x="1177.5" y="834">廳</tspan><tspan x="1177.5" y="853">遺</tspan><tspan x="1177.5" y="871">址</tspan></text>
<text class="bx" font-size="17"><tspan x="1285.5" y="756.5">大</tspan><tspan x="1285.5" y="773">宰</tspan><tspan x="1285.5" y="789.6">府</tspan><tspan x="1285.5" y="806.2">學</tspan><tspan x="1285.5" y="822.8">校</tspan><tspan x="1285.5" y="839.4">院</tspan><tspan x="1285.5" y="856">遺</tspan><tspan x="1285.5" y="872.5">址</tspan></text>
<text class="bx" font-size="25"><tspan x="1392.5" y="793.5">戒</tspan><tspan x="1392.5" y="817.5">壇</tspan><tspan x="1392.5" y="841.5">院</tspan></text>
<text class="bx" font-size="25"><tspan x="1500.5" y="779.5">觀</tspan><tspan x="1500.5" y="803.5">世</tspan><tspan x="1500.5" y="828.5">音</tspan><tspan x="1500.5" y="852.5">寺</tspan></text>
<text class="bx" font-size="25"><tspan x="1070.5" y="968.5">光</tspan><tspan x="1070.5" y="993.5">明</tspan><tspan x="1070.5" y="1017.5">禪</tspan><tspan x="1070.5" y="1041.5">寺</tspan></text>
<text class="bx" font-size="19"><tspan x="1177.5" y="946.2">九</tspan><tspan x="1177.5" y="964.9">州</tspan><tspan x="1177.5" y="983.5">國</tspan><tspan x="1177.5" y="1002.2">立</tspan><tspan x="1177.5" y="1020.9">博</tspan><tspan x="1177.5" y="1039.5">物</tspan><tspan x="1177.5" y="1058.2">館</tspan></text>
<text class="bx" font-size="20"><tspan x="1285.5" y="954.6">太</tspan><tspan x="1285.5" y="974.2">宰</tspan><tspan x="1285.5" y="993.8">府</tspan><tspan x="1285.5" y="1013.4">天</tspan><tspan x="1285.5" y="1033">滿</tspan><tspan x="1285.5" y="1052.6">宮</tspan></text>
<text class="bx" font-size="25" style="fill:#e8890c"><tspan x="1392.5" y="967.5">太</tspan><tspan x="1392.5" y="991.5">宰</tspan><tspan x="1392.5" y="1015.5">府</tspan><tspan x="1392.5" y="1039.5">站</tspan></text>

<text class="wk"><tspan x="1124" y="741">步</tspan><tspan x="1124" y="756">行</tspan><tspan x="1124" y="771">15</tspan><tspan x="1124" y="786">分</tspan><tspan x="1124" y="801">鐘</tspan></text>
<text class="wk"><tspan x="1231.5" y="741">步</tspan><tspan x="1231.5" y="756">行</tspan><tspan x="1231.5" y="771">5</tspan><tspan x="1231.5" y="786">分</tspan><tspan x="1231.5" y="801">鐘</tspan></text>
<text class="wk"><tspan x="1339" y="741">步</tspan><tspan x="1339" y="756">行</tspan><tspan x="1339" y="771">5</tspan><tspan x="1339" y="786">分</tspan><tspan x="1339" y="801">鐘</tspan></text>
<text class="wk"><tspan x="1446.5" y="741">步</tspan><tspan x="1446.5" y="756">行</tspan><tspan x="1446.5" y="771">1</tspan><tspan x="1446.5" y="786">分</tspan><tspan x="1446.5" y="801">鐘</tspan></text>
<text class="wk" x="1124" y="841">約</text><text class="km" x="1124" y="857">1.1km</text>
<text class="wk" x="1231.5" y="841">約</text><text class="km" x="1231.5" y="857">0.6km</text>
<text class="wk" x="1339" y="841">約</text><text class="km" x="1339" y="857">0.4km</text>
<text class="wk" x="1446.5" y="841">約</text><text class="km" x="1446.5" y="857">0.1km</text>
<text class="wk"><tspan x="1124" y="924">步</tspan><tspan x="1124" y="939">行</tspan><tspan x="1124" y="954">5</tspan><tspan x="1124" y="969">分</tspan><tspan x="1124" y="984">鐘</tspan></text>
<text class="wk"><tspan x="1231.5" y="924">步</tspan><tspan x="1231.5" y="939">行</tspan><tspan x="1231.5" y="954">5</tspan><tspan x="1231.5" y="969">分</tspan><tspan x="1231.5" y="984">鐘</tspan></text>
<text class="wk"><tspan x="1339" y="924">步</tspan><tspan x="1339" y="939">行</tspan><tspan x="1339" y="954">5</tspan><tspan x="1339" y="969">分</tspan><tspan x="1339" y="984">鐘</tspan></text>
<text class="wk"><tspan x="1452" y="924">步</tspan><tspan x="1452" y="939">行</tspan><tspan x="1452" y="954">15</tspan><tspan x="1452" y="969">分</tspan><tspan x="1452" y="984">鐘</tspan></text>
<text class="wk" x="1124" y="1025">約</text><text class="km" x="1124" y="1041">0.4km</text>
<text class="wk" x="1231.5" y="1025">約</text><text class="km" x="1231.5" y="1041">0.5km</text>
<text class="wk" x="1339" y="1025">約</text><text class="km" x="1339" y="1041">0.6km</text>
<text class="wk" x="1452" y="1025">約</text><text class="km" x="1452" y="1041">1.6km</text>
</g>
</svg>
</body></html>
